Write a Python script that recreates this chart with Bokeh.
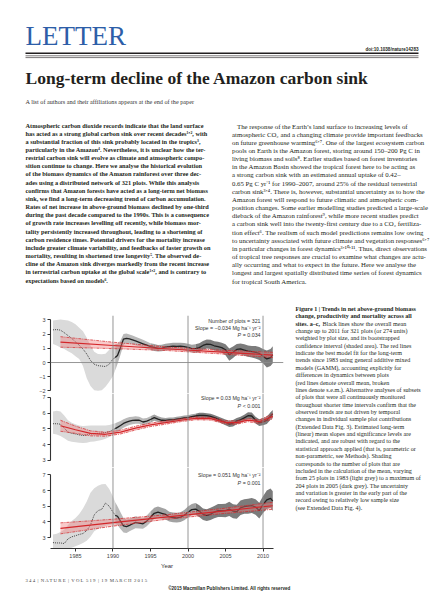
import numpy as np
from bokeh.plotting import figure
from bokeh.models import Range1d, Span, Label, FixedTicker
from bokeh.layouts import column, row
from bokeh.embed import file_html
from bokeh.resources import INLINE

# ---------------- data ----------------
years = [1982.0, 1982.5, 1983.0, 1983.5, 1984.0, 1984.5, 1985.0, 1985.5, 1986.0, 1986.5,
         1987.0, 1987.5, 1988.0, 1988.5, 1989.0, 1989.5, 1990.0, 1990.3, 1990.6,
         1991.0, 1991.4, 1991.8, 1992.2, 1992.6,
         1993.0, 1993.5, 1994.0, 1994.5, 1995.0, 1995.5, 1996.0, 1996.5, 1997.0, 1997.5,
         1998.0, 1998.5, 1999.0, 1999.5, 2000.0, 2000.5, 2001.0, 2001.5, 2002.0, 2002.5,
         2003.0, 2003.5, 2004.0, 2004.5, 2005.0, 2005.5, 2006.0, 2006.5, 2007.0, 2007.5,
         2008.0, 2008.5, 2009.0, 2009.5, 2010.0, 2010.5, 2011.0, 2011.3]

net_mean = [2.30, 2.32, 2.28, 2.10, 1.90, 1.70, 1.45, 1.22, 0.95, 0.60,
            0.15, -0.12, -0.22, -0.25, -0.28, -0.12, 0.25, 0.35, 0.50,
            1.05, 1.65, 1.70, 1.66, 1.60,
            1.52, 1.42, 1.32, 1.22, 1.12, 1.06, 1.00, 1.02, 1.08, 1.12,
            1.15, 1.14, 1.15, 1.12, 1.06, 0.98, 0.98, 1.05, 1.20, 1.30,
            1.28, 1.18, 1.12, 1.05, 0.90, 0.55, 0.72, 0.92, 0.96, 0.88,
            0.80, 0.76, 0.72, 0.64, 0.45, 0.25, 0.35, 0.55]
net_lo = [1.30, 1.20, 1.05, 0.95, 0.80, 0.65, 0.45, 0.25, -0.25, -1.10,
          -1.65, -1.95, -1.98, -1.95, -1.70, -1.35, -0.95, -0.55, -0.10,
          0.55, 1.25, 1.35, 1.32, 1.28,
          1.22, 1.14, 1.05, 0.97, 0.88, 0.82, 0.78, 0.80, 0.85, 0.88,
          0.90, 0.89, 0.90, 0.87, 0.80, 0.70, 0.68, 0.74, 0.88, 0.98,
          0.96, 0.85, 0.78, 0.70, 0.52, 0.12, 0.32, 0.55, 0.58, 0.48,
          0.40, 0.35, 0.28, 0.18, -0.05, -0.35, -0.25, -0.05]
net_hi = [2.95, 3.00, 3.02, 3.00, 2.95, 2.85, 2.70, 2.45, 2.20, 1.75,
          1.20, 0.75, 0.60, 0.58, 0.62, 0.90, 1.20, 1.30, 1.30,
          1.55, 2.00, 2.05, 1.98, 1.90,
          1.82, 1.70, 1.60, 1.48, 1.36, 1.30, 1.24, 1.26, 1.32, 1.36,
          1.40, 1.39, 1.40, 1.37, 1.32, 1.26, 1.28, 1.36, 1.52, 1.62,
          1.60, 1.50, 1.46, 1.40, 1.28, 0.98, 1.12, 1.30, 1.34, 1.28,
          1.20, 1.17, 1.16, 1.10, 0.95, 0.85, 0.95, 1.15]

prod_mean = [5.33, 5.33, 5.30, 5.05, 4.80, 4.72, 4.68, 4.62, 4.58, 4.62,
             4.68, 4.70, 4.72, 4.74, 4.77, 4.82, 4.95, 5.02, 5.10,
             5.22, 5.35, 5.43, 5.50, 5.54,
             5.56, 5.55, 5.44, 5.50, 5.60, 5.72, 5.62, 5.55, 5.54, 5.57,
             5.58, 5.62, 5.66, 5.70, 5.72, 5.78, 5.82, 5.86, 5.86, 5.84,
             5.80, 5.72, 5.62, 5.52, 5.42, 5.32, 5.36, 5.50, 5.58, 5.70,
             5.84, 5.82, 5.56, 5.40, 5.46, 5.55, 5.82, 5.95]
prod_lo = [4.70, 4.65, 4.55, 4.40, 4.25, 4.18, 4.15, 4.12, 4.10, 4.12,
           4.18, 4.20, 4.25, 4.30, 4.38, 4.48, 4.60, 4.70, 4.80,
           4.95, 5.08, 5.17, 5.25, 5.30,
           5.33, 5.33, 5.22, 5.30, 5.40, 5.52, 5.44, 5.38, 5.38, 5.41,
           5.43, 5.47, 5.51, 5.55, 5.57, 5.63, 5.67, 5.70, 5.70, 5.68,
           5.64, 5.55, 5.45, 5.34, 5.24, 5.12, 5.16, 5.30, 5.38, 5.50,
           5.62, 5.60, 5.34, 5.18, 5.24, 5.32, 5.58, 5.70]
prod_hi = [6.10, 6.15, 6.10, 5.85, 5.55, 5.40, 5.30, 5.22, 5.18, 5.20,
           5.22, 5.22, 5.22, 5.22, 5.22, 5.25, 5.32, 5.36, 5.42,
           5.50, 5.62, 5.70, 5.76, 5.78,
           5.80, 5.78, 5.66, 5.70, 5.80, 5.92, 5.80, 5.72, 5.70, 5.73,
           5.73, 5.77, 5.81, 5.85, 5.87, 5.93, 5.97, 6.02, 6.02, 6.00,
           5.96, 5.89, 5.79, 5.70, 5.60, 5.52, 5.56, 5.70, 5.78, 5.90,
           6.06, 6.04, 5.78, 5.62, 5.68, 5.78, 6.06, 6.20]

mort_mean = [2.68, 2.66, 2.66, 2.62, 2.92, 3.05, 3.12, 3.20, 3.26, 3.45,
             3.80, 4.45, 4.72, 4.80, 5.20, 5.00, 4.62, 4.42, 4.36,
             4.05, 3.75, 3.70, 3.78, 3.88,
             3.97, 3.92, 3.88, 4.05, 4.30, 4.55, 4.62, 4.55, 4.48, 4.32,
             4.28, 4.26, 4.30, 4.42, 4.62, 4.78, 4.82, 4.68, 4.48, 4.42,
             4.50, 4.62, 4.72, 4.72, 4.72, 4.82, 4.68, 4.65, 4.90, 4.98,
             5.00, 5.04, 4.95, 4.72, 5.10, 5.40, 5.50, 5.32]
mort_lo = [2.30, 2.30, 2.30, 2.30, 2.32, 2.36, 2.45, 2.55, 2.65, 2.80,
           3.05, 3.40, 3.55, 3.65, 3.75, 3.82, 3.85, 3.85, 3.80,
           3.55, 3.32, 3.30, 3.40, 3.50,
           3.60, 3.58, 3.56, 3.72, 3.96, 4.20, 4.28, 4.22, 4.16, 4.02,
           3.98, 3.96, 4.00, 4.10, 4.28, 4.42, 4.46, 4.32, 4.12, 4.06,
           4.12, 4.24, 4.32, 4.32, 4.30, 4.38, 4.24, 4.20, 4.44, 4.52,
           4.52, 4.56, 4.46, 4.22, 4.56, 4.82, 4.90, 4.70]
mort_hi = [3.20, 3.25, 3.35, 3.50, 3.80, 4.05, 4.25, 4.50, 4.85, 5.30,
           5.85, 6.15, 6.30, 6.40, 6.42, 6.10, 5.60, 5.25, 5.00,
           4.62, 4.25, 4.15, 4.20, 4.28,
           4.36, 4.30, 4.24, 4.40, 4.66, 4.90, 4.98, 4.90, 4.82, 4.64,
           4.60, 4.58, 4.62, 4.76, 4.98, 5.14, 5.20, 5.06, 4.86, 4.80,
           4.90, 5.02, 5.14, 5.14, 5.16, 5.28, 5.12, 5.10, 5.36, 5.44,
           5.48, 5.52, 5.44, 5.22, 5.64, 6.00, 6.12, 5.96]

net_fit_years = [1983.0, 1990.0, 1997.0, 2004.0, 2011.3]
net_fit = [1.44, 1.20, 0.97, 0.75, 0.52]
net_fit_lo = [1.08, 0.98, 0.85, 0.62, 0.35]
net_fit_hi = [1.82, 1.43, 1.10, 0.88, 0.72]

prod_fit_years = [1983.0, 1985.0, 1987.0, 1989.0, 1991.0, 1993.0, 1995.0, 1997.0,
                  1999.0, 2001.0, 2003.0, 2005.0, 2006.5, 2008.0, 2009.5, 2011.3]
prod_fit = [5.20, 4.95, 4.72, 4.66, 4.80, 5.05, 5.26, 5.40, 5.55, 5.67, 5.65, 5.42, 5.40, 5.56, 5.46, 5.80]
prod_fit_lo = [4.85, 4.72, 4.56, 4.54, 4.68, 4.93, 5.15, 5.30, 5.46, 5.58, 5.56, 5.32, 5.30, 5.46, 5.35, 5.64]
prod_fit_hi = [5.55, 5.18, 4.88, 4.79, 4.92, 5.17, 5.37, 5.50, 5.64, 5.76, 5.74, 5.52, 5.50, 5.66, 5.57, 5.96]

mort_fit_years = [1983.0, 1990.0, 1997.0, 2004.0, 2011.3]
mort_fit = [3.59, 3.95, 4.30, 4.66, 5.03]
mort_fit_lo = [3.24, 3.73, 4.16, 4.50, 4.80]
mort_fit_hi = [3.94, 4.17, 4.45, 4.82, 5.25]

solid_from = 1990.3                     # black line dotted before, solid after
shade_edges = [1982.0, 1990.3, 1995.0, 2001.0, 2011.3]
marker_years = [1990, 2000, 2010]
x_ticks = [1985, 1990, 1995, 2000, 2005, 2010]

# ---------------- styles ----------------
SERIF = "Liberation Serif"
SANS = "Liberation Sans"
INK = "#231f20"
shade_colors = ["#dadada", "#b9b9b9", "#a2a2a2", "#7c7c7c"]
RED = "#d3262a"


def page_fig(w, h):
    p = figure(width=w, height=h, x_range=Range1d(0, w), y_range=Range1d(h, 0),
               output_backend="svg", toolbar_location=None,
               x_axis_location=None, y_axis_location=None,
               min_border=0, outline_line_color=None)
    p.grid.visible = False
    p.background_fill_color = "white"
    p.border_fill_color = "white"
    return p


def txt(p, x, y, s, size, font=SERIF, style="normal", color=INK, align="left",
        baseline="middle", angle=0.0, x_offset=0):
    p.add_layout(Label(x=x, y=y, text=s, text_font=font, text_font_size=f"{size}px",
                       text_font_style=style, text_color=color, text_align=align,
                       text_baseline=baseline, angle=angle, x_offset=x_offset))


# ---------------- header + abstract (page 0..296) ----------------
top = page_fig(448, 296)
txt(top, 25, 35.5, "LETTER", 27, color="#2d5ea8")
txt(top, 418, 49, "doi:10.1038/nature14283", 4.6, font=SANS, style="bold", align="right")
# masthead rules (one heavy, two hairlines)
top.segment(x0=[25, 25, 25], y0=[52.7, 55.3, 57.1], x1=[418, 418, 418], y1=[52.7, 55.3, 57.1],
            line_color=INK, line_width=[1.4, 0.6, 0.6])
txt(top, 25, 77.8, "Long-term decline of the Amazon carbon sink", 17.5, style="bold")
txt(top, 25, 100.5,
    "A list of authors and their affiliations appears at the end of the paper", 6.2, color="#333333")

left_lines = [
    "Atmospheric carbon dioxide records indicate that the land surface",
    "has acted as a strong global carbon sink over recent decades\u00b9\u02bc\u00b2, with",
    "a substantial fraction of this sink probably located in the tropics\u00b3,",
    "particularly in the Amazon\u2074. Nevertheless, it is unclear how the ter-",
    "restrial carbon sink will evolve as climate and atmospheric compo-",
    "sition continue to change. Here we analyse the historical evolution",
    "of the biomass dynamics of the Amazon rainforest over three dec-",
    "ades using a distributed network of 321 plots. While this analysis",
    "confirms that Amazon forests have acted as a long-term net biomass",
    "sink, we find a long-term decreasing trend of carbon accumulation.",
    "Rates of net increase in above-ground biomass declined by one-third",
    "during the past decade compared to the 1990s. This is a consequence",
    "of growth rate increases levelling off recently, while biomass mor-",
    "tality persistently increased throughout, leading to a shortening of",
    "carbon residence times. Potential drivers for the mortality increase",
    "include greater climate variability, and feedbacks of faster growth on",
    "mortality, resulting in shortened tree longevity\u2075. The observed de-",
    "cline of the Amazon sink diverges markedly from the recent increase",
    "in terrestrial carbon uptake at the global scale\u00b9\u02bc\u00b2, and is contrary to",
    "expectations based on models\u2076.",
]
right_lines = [
    "The response of the Earth\u2019s land surface to increasing levels of",
    "atmospheric CO\u2082 and a changing climate provide important feedbacks",
    "on future greenhouse warming\u2076\u02bc\u2077. One of the largest ecosystem carbon",
    "pools on Earth is the Amazon forest, storing around 150\u2013200 Pg C in",
    "living biomass and soils\u2078. Earlier studies based on forest inventories",
    "in the Amazon Basin showed the tropical forest here to be acting as",
    "a strong carbon sink with an estimated annual uptake of 0.42\u2013",
    "0.65 Pg C yr\u207b\u00b9 for 1990\u20132007, around 25% of the residual terrestrial",
    "carbon sink\u00b3\u02bc\u2074. There is, however, substantial uncertainty as to how the",
    "Amazon forest will respond to future climatic and atmospheric com-",
    "position changes. Some earlier modelling studies predicted a large-scale",
    "dieback of the Amazon rainforest\u2079, while more recent studies predict",
    "a carbon sink well into the twenty-first century due to a CO\u2082 fertiliza-",
    "tion effect\u2076. The realism of such model predictions remains low owing",
    "to uncertainty associated with future climate and vegetation responses\u2076\u02bc\u2077",
    "in particular changes in forest dynamics\u00b3\u02bc\u00b9\u2070\u02bc\u00b9\u00b9. Thus, direct observations",
    "of tropical tree responses are crucial to examine what changes are actu-",
    "ally occurring and what to expect in the future. Here we analyse the",
    "longest and largest spatially distributed time series of forest dynamics",
    "for tropical South America.",
]
LS = 8.16
for i, s in enumerate(left_lines):
    txt(top, 25, 124.5 + i * LS, s, 6.3, style="bold")
for i, s in enumerate(right_lines):
    txt(top, 236.5 if i == 0 else 231.5, 125.5 + i * LS, s, 6.8)

# ---------------- chart panels (page x 0..290, y 296..574) ----------------
xr = Range1d(1981.67, 2012.73)
yrs = np.array(years)


def px_year(px):
    return 1985 + (px - 75) / 7.5


def make_panel(h, b_top, b_bottom, yrange, ybounds, yticks, show_x):
    p = figure(width=290, height=h, x_range=xr, y_range=Range1d(*yrange),
               output_backend="svg", toolbar_location=None,
               x_axis_location="below" if show_x else None,
               min_border_left=50, min_border_right=7,
               min_border_top=b_top, min_border_bottom=b_bottom,
               outline_line_color=None)
    p.grid.visible = False
    ax = p.yaxis[0]
    ax.bounds = ybounds
    ax.ticker = FixedTicker(ticks=yticks)
    ax.major_label_overrides = {t: ("\u2212" + str(abs(t)) if t < 0 else str(t)) for t in yticks}
    axes = [ax]
    if show_x:
        xa = p.xaxis[0]
        xa.bounds = (1981.67, 2011.4)
        xa.ticker = FixedTicker(ticks=x_ticks)
        xa.axis_label = "Year"
        xa.axis_label_text_font = SANS
        xa.axis_label_text_font_size = "6px"
        xa.axis_label_text_font_style = "normal"
        xa.axis_label_text_color = "#333333"
        xa.axis_label_standoff = 2
        axes.append(xa)
    for a in axes:
        a.minor_tick_line_color = None
        a.major_tick_out = 3
        a.major_tick_in = 0
        a.major_label_standoff = 2
        a.major_label_text_font = SANS
        a.major_label_text_font_size = "5.5px"
        a.major_label_text_color = "#444444"
        a.axis_line_color = "#333333"
        a.axis_line_width = 1.1
        a.major_tick_line_color = "#333333"
    return p


def draw_series(p, mean, lo, hi, fx, fm, flo, fhi):
    mean, lo, hi = np.array(mean), np.array(lo), np.array(hi)
    for (s, e), col in zip(zip(shade_edges[:-1], shade_edges[1:]), shade_colors):
        m = (yrs >= s) & (yrs <= e)
        p.varea(x=yrs[m], y1=lo[m], y2=hi[m], fill_color=col, fill_alpha=1)
    m = yrs <= solid_from
    p.line(yrs[m], mean[m], line_color="#333333", line_width=0.9, line_dash="1 1")
    m = yrs >= solid_from
    p.line(yrs[m], mean[m], line_color="#222222", line_width=1.3)
    p.varea(x=fx, y1=flo, y2=fhi, fill_color="#f07a7a", fill_alpha=0.4)
    p.line(fx, flo, line_color=RED, line_width=0.7, line_dash="3 1 1 1")
    p.line(fx, fhi, line_color=RED, line_width=0.7, line_dash="3 1 1 1")
    p.line(fx, fm, line_color=RED, line_width=1.2)
    for v in marker_years:
        p.add_layout(Span(location=v, dimension="height", line_color="#8a8a8a", line_width=0.9))


def stats(p, ys, lines, pval):
    xs = px_year(260)
    for y, s in zip(ys, lines):
        txt(p, xs, y, s, 5.3, font=SANS, color="#333333", align="right")
    txt(p, xs, ys[len(lines)], "\u00a0" + pval, 5.3, font=SANS, color="#333333", align="right")
    txt(p, xs, ys[len(lines)], "P", 5.3, font=SANS, style="italic", color="#333333",
        align="right", x_offset=-19.5)


def ylabels(p, x1, x2, yc, name):
    txt(p, px_year(x1), yc, name, 5.5, font=SANS, color="#333333", align="center", angle=np.pi / 2)
    txt(p, px_year(x2), yc, "(Mg ha\u207b\u00b9 yr\u207b\u00b9)", 5.5, font=SANS, color="#333333",
        align="center", angle=np.pi / 2)


# panel a: frame 315..393 (0 at 362, 14.2 px/unit)
fa = make_panel(97, 19, 0, (-2.18, 3.31), (-2, 3), [-2, -1, 0, 1, 2, 3], False)
fa.add_layout(Span(location=0, dimension="width", line_color="#8a8a8a", line_width=0.9))
draw_series(fa, net_mean, net_lo, net_hi, net_fit_years, net_fit, net_fit_lo, net_fit_hi)
pa = lambda py: (362 - py) / 14.2
stats(fa, [pa(320), pa(327.2), pa(334.4)],
      ["Number of plots = 321", "Slope = \u22120.034 Mg ha\u207b\u00b9 yr\u207b\u00b2"], "= 0.034")
txt(fa, px_year(26), pa(311), "a", 5.8, font=SANS, style="bold")
ylabels(fa, 29.3, 33.6, pa(352), "Net biomass change")

# panel b: frame 393..467 (7 at 397, 15.75 px/unit)
fb = make_panel(74, 0, 0, (2.55, 7.25), (3, 7), [3, 4, 5, 6, 7], False)
draw_series(fb, prod_mean, prod_lo, prod_hi, prod_fit_years, prod_fit, prod_fit_lo, prod_fit_hi)
pb = lambda py: 7 - (py - 397) / 15.75
stats(fb, [pb(398), pb(405.5)], ["Slope = 0.03 Mg ha\u207b\u00b9 yr\u207b\u00b2"], "< 0.001")
txt(fb, px_year(26), pb(397.5), "b", 5.8, font=SANS, style="bold")
ylabels(fb, 29.3, 33.6, pb(435), "Productivity")

# panel c: frame 467..548 (7 at 474.3, 15.7 px/unit)
fc = make_panel(107, 0, 26, (2.306, 7.465), (3, 7), [3, 4, 5, 6, 7], True)
draw_series(fc, mort_mean, mort_lo, mort_hi, mort_fit_years, mort_fit, mort_fit_lo, mort_fit_hi)
pc = lambda py: 7 - (py - 474.3) / 15.7
stats(fc, [pc(474.5), pc(482)], ["Slope = 0.051 Mg ha\u207b\u00b9 yr\u207b\u00b2"], "= 0.001")
txt(fc, px_year(26), pc(475), "c", 5.8, font=SANS, style="bold")
ylabels(fc, 27.6, 32.0, pc(505), "Biomass mortality")

# ---------------- caption (page x 290..448, y 296..574) ----------------
cap = page_fig(158, 278)
CX, CY = 290, 296
cap_lines = [
    ("bold", "Figure 1 | Trends in net above-ground biomass"),
    ("bold", "change, productivity and mortality across all"),
    ("mixed", "Black lines show the overall mean"),
    ("normal", "change up to 2011 for 321 plots (or 274 units)"),
    ("normal", "weighted by plot size, and its bootstrapped"),
    ("normal", "confidence interval (shaded area). The red lines"),
    ("normal", "indicate the best model fit for the long-term"),
    ("normal", "trends since 1983 using general additive mixed"),
    ("normal", "models (GAMM), accounting explicitly for"),
    ("normal", "differences in dynamics between plots"),
    ("normal", "(red lines denote overall mean, broken"),
    ("normal", "lines denote s.e.m.). Alternative analyses of subsets"),
    ("normal", "of plots that were all continuously monitored"),
    ("normal", "throughout shorter time intervals confirm that the"),
    ("normal", "observed trends are not driven by temporal"),
    ("normal", "changes in individual sample plot contributions"),
    ("normal", "(Extended Data Fig. 3). Estimated long-term"),
    ("normal", "(linear) mean slopes and significance levels are"),
    ("normal", "indicated, and are robust with regard to the"),
    ("normal", "statistical approach applied (that is, parametric or"),
    ("normal", "non-parametric, see Methods). Shading"),
    ("normal", "corresponds to the number of plots that are"),
    ("normal", "included in the calculation of the mean, varying"),
    ("normal", "from 25 plots in 1983 (light grey) to a maximum of"),
    ("normal", "204 plots in 2005 (dark grey). The uncertainty"),
    ("normal", "and variation is greater in the early part of the"),
    ("normal", "record owing to relatively low sample size"),
    ("normal", "(see Extended Data Fig. 4)."),
]
CLS = 7.37
for i, (st, s) in enumerate(cap_lines):
    y = 308.3 - CY + i * CLS
    if st == "mixed":
        txt(cap, 295 - CX, y, "sites. a\u2013c,", 6.1, style="bold")
        txt(cap, 322 - CX, y, s, 6.1)
    else:
        txt(cap, 295 - CX, y, s, 6.1, style=st)

# ---------------- footer (page y 574..592) ----------------
foot = page_fig(448, 18)
FY = 574
E = "\u2002"
folio = f"3 4 4{E}|{E}N A T U R E{E}|{E}V O L{E}5 1 9{E}|{E}1 9{E}M A R C H{E}2 0 1 5"
txt(foot, 25, 580 - FY, folio, 4.8, color="#444444")
txt(foot, 290, 588 - FY, "\u00a92015 Macmillan Publishers Limited. All rights reserved",
    4.6, font=SANS, style="bold", align="right")

layout = column(top, row(column(fa, fb, fc), cap), foot)
open("out.html", "w").write(file_html(layout, INLINE))
